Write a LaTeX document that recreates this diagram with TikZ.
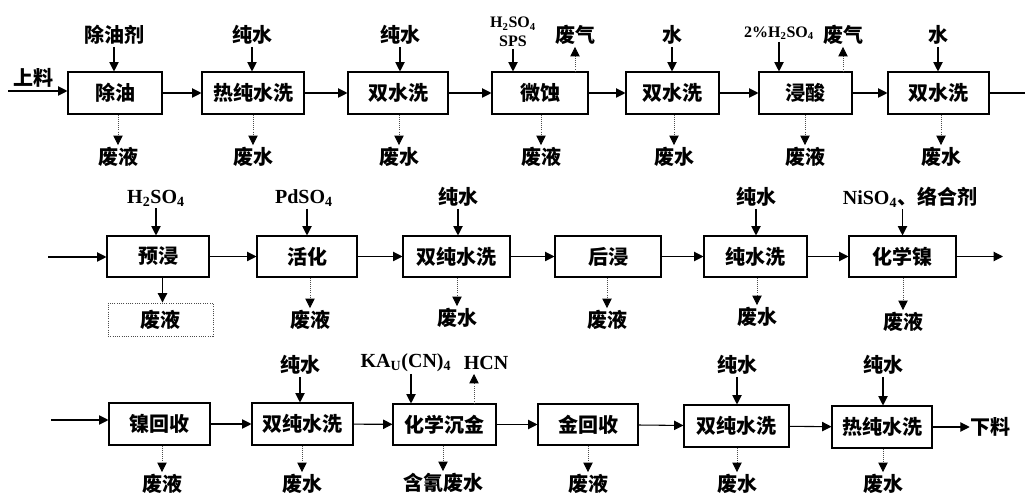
\documentclass[tikz,border=0pt]{standalone}
\usepackage{fontspec}
\newfontfamily\cjk{Noto Sans CJK SC}
\newfontfamily\tms{Liberation Serif}
\usetikzlibrary{arrows.meta,fit}
\newcommand\cnf{\cjk\bfseries\fontsize{15pt}{18pt}\selectfont}
\newcommand\chf{\tms\bfseries\fontsize{15pt}{18pt}\selectfont}
\newcommand\chsf{\tms\bfseries\fontsize{12pt}{14pt}\selectfont}
\begin{document}
\begin{tikzpicture}[x=0.75pt,y=-0.75pt,
  box/.style={draw, line width=0.8pt, inner sep=0pt},
  boxtxt/.style={font=\cnf, inner sep=0pt},
  lab/.style={inner sep=1.5pt, font=\cnf},
  chem/.style={inner sep=1.5pt, font=\chf},
  chems/.style={inner sep=1.5pt, font=\chsf, align=center},
  arr/.style={line width=0.8pt, -{Triangle[length=7pt,width=7pt]}},
  darr/.style={line width=0.6pt, densely dotted, draw=black!70, -{Triangle[length=7pt,width=7pt,color=black]}},
  dbox/.style={draw=black!70, densely dotted, line width=0.7pt, inner sep=0pt}]
\fill[white] (0,0) rectangle (1025,495);
\useasboundingbox (0,0) rectangle (1025,495);

% ---------- Row 1 ----------
\node[box, fit={(68,72)(162,114)}, label={[boxtxt]center:除油}] (b1) {};
\node[box, fit={(202,72)(304,114)}, label={[boxtxt]center:热纯水洗}] (b2) {};
\node[box, fit={(348,72)(448,114)}, label={[boxtxt]center:双水洗}] (b3) {};
\node[box, fit={(492,72)(588,114)}, label={[boxtxt]center:微蚀}] (b4) {};
\node[box, fit={(626,72)(719,114)}, label={[boxtxt]center:双水洗}] (b5) {};
\node[box, fit={(759,72)(852,114)}, label={[boxtxt]center:浸酸}] (b6) {};
\node[box, fit={(888,72)(989,114)}, label={[boxtxt]center:双水洗}] (b7) {};
\coordinate (s1) at (8,91);
\coordinate (e1) at (1025,93);
\node[lab] (t1) at (33,78) {上料};

\draw[arr] (s1) -- (s1 -| b1.west);
\draw[arr] (b1) -- (b2);
\draw[arr] (b2) -- (b3);
\draw[arr] (b3) -- (b4);
\draw[arr] (b4) -- (b5);
\draw[arr] (b5) -- (b6);
\draw[arr] (b6) -- (b7);
\draw[line width=0.8pt] (b7.east) -- (b7.east -| e1);

\node[lab] (i1) at (114,35) {除油剂};
\node[lab] (i2) at (252,35) {纯水};
\node[lab] (i3) at (400,35) {纯水};
\node[chems] (i4) at (513,32) {H\textsubscript{2}SO\textsubscript{4}\\SPS};
\node[lab] (w1) at (575,35) {废气};
\node[lab] (i5) at (672,35) {水};
\node[chems] (i6) at (779,33) {2\%H\textsubscript{2}SO\textsubscript{4}};
\node[lab] (w2) at (843,35) {废气};
\node[lab] (i7) at (938,35) {水};

\draw[arr] (i1.south) -- (i1.south |- b1.north);
\draw[arr] (i2.south) -- (i2.south |- b2.north);
\draw[arr] (i3.south) -- (i3.south |- b3.north);
\draw[arr] (i4.south) -- (i4.south |- b4.north);
\draw[darr] (w1.south |- b4.north) -- (w1.south);
\draw[arr] (i5.south) -- (i5.south |- b5.north);
\draw[arr] (i6.south) -- (i6.south |- b6.north);
\draw[darr] (w2.south |- b6.north) -- (w2.south);
\draw[arr] (i7.south) -- (i7.south |- b7.north);

\node[lab] (o1) at (118,157) {废液};
\node[lab] (o2) at (253,157) {废水};
\node[lab] (o3) at (399,157) {废水};
\node[lab] (o4) at (541,157) {废液};
\node[lab] (o5) at (674,157) {废水};
\node[lab] (o6) at (805,157) {废液};
\node[lab] (o7) at (941,157) {废水};
\foreach \o/\b in {o1/b1,o2/b2,o3/b3,o4/b4,o5/b5,o6/b6,o7/b7}
  \draw[darr] (\o.north |- \b.south) -- (\o.north);

% ---------- Row 2 ----------
\node[box, fit={(107,236)(209,277)}, label={[boxtxt]center:预浸}] (c1) {};
\node[box, fit={(257,236)(357,277)}, label={[boxtxt]center:活化}] (c2) {};
\node[box, fit={(403,236)(510,277)}, label={[boxtxt]center:双纯水洗}] (c3) {};
\node[box, fit={(555,236)(661,277)}, label={[boxtxt]center:后浸}] (c4) {};
\node[box, fit={(704,236)(807,277)}, label={[boxtxt]center:纯水洗}] (c5) {};
\node[box, fit={(849,236)(956,277)}, label={[boxtxt]center:化学镍}] (c6) {};
\coordinate (s2) at (48,257);
\coordinate (e2) at (1003,258);

\draw[arr] (s2) -- (s2 -| c1.west);
\draw[arr] (c1) -- (c2);
\draw[arr] (c2) -- (c3);
\draw[arr] (c3) -- (c4);
\draw[arr] (c4) -- (c5);
\draw[arr] (c5) -- (c6);
\draw[arr] (c6.east) -- (c6.east -| e2);

\node[chem] (j1) at (156,198) {H\textsubscript{2}SO\textsubscript{4}};
\node[chem] (j2) at (304,198) {PdSO\textsubscript{4}};
\node[lab] (j3) at (458,197) {纯水};
\node[lab] (j5) at (756,197) {纯水};
\node[chem] (j6) at (910,197) {NiSO\textsubscript{4}{\cnf 、络合剂}};

\draw[arr] (j1.south) -- (j1.south |- c1.north);
\draw[arr] (j2.south -| c2.north) -- (c2.north);
\draw[arr] (j3.south) -- (j3.south |- c3.north);
\draw[arr] (j5.south) -- (j5.south |- c5.north);
\draw[arr] (j6.south -| c6.north) -- (c6.north);

\node[dbox, fit={(108,303)(213,336)}, label={[boxtxt]center:废液}] (p1) {};
\node[lab] (p2) at (310,320) {废液};
\node[lab] (p3) at (457,318) {废水};
\node[lab] (p4) at (607,320) {废液};
\node[lab] (p5) at (757,317) {废水};
\node[lab] (p6) at (903,322) {废液};
\draw[arr] ([xshift=1.5pt]p1.north |- c1.south) -- ([xshift=1.5pt]p1.north);
\foreach \o/\b in {p2/c2,p3/c3,p4/c4,p5/c5,p6/c6}
  \draw[darr] (\o.north |- \b.south) -- (\o.north);

% ---------- Row 3 ----------
\node[box, fit={(109,403)(210,445)}, label={[boxtxt]center:镍回收}] (d1) {};
\node[box, fit={(252,403)(353,445)}, label={[boxtxt]center:双纯水洗}] (d2) {};
\node[box, fit={(393,404)(496,445)}, label={[boxtxt]center:化学沉金}] (d3) {};
\node[box, fit={(538,404)(638,445)}, label={[boxtxt]center:金回收}] (d4) {};
\node[box, fit={(684,405)(789,447)}, label={[boxtxt]center:双纯水洗}] (d5) {};
\node[box, fit={(832,406)(932,448)}, label={[boxtxt]center:热纯水洗}] (d6) {};
\coordinate (s3) at (51,420);
\node[lab, inner sep=0pt] (t3) at (990,427) {下料};

\draw[arr] (s3) -- (s3 -| d1.west);
\draw[arr] (d1) -- (d2);
\draw[arr] (d2) -- (d3);
\draw[arr] (d3) -- (d4);
\draw[arr] (d4) -- (d5);
\draw[arr] (d5) -- (d6);
\draw[arr] (d6.east) -- (t3.west);

\node[lab] (k2) at (300,365) {纯水};
\node[chem] (k3) at (406,363) {KA\textsubscript{U}(CN)\textsubscript{4}};
\node[chem] (h3) at (486,363) {HCN};
\node[lab] (k5) at (737,365) {纯水};
\node[lab] (k6) at (883,365) {纯水};
\coordinate (ka) at (411,374);
\coordinate (hc) at (474,374);

\draw[arr] (k2.south) -- (k2.south |- d2.north);
\draw[arr] (ka) -- (ka |- d3.north);
\draw[darr] (hc |- d3.north) -- (hc);
\draw[arr] (k5.south) -- (k5.south |- d5.north);
\draw[arr] (k6.south) -- (k6.south |- d6.north);

\node[lab] (q1) at (162,484) {废液};
\node[lab] (q2) at (302,484) {废水};
\node[lab] (q3) at (443,483) {含氰废水};
\node[lab] (q4) at (588,484) {废液};
\node[lab] (q5) at (737,484) {废水};
\node[lab] (q6) at (883,484) {废水};
\foreach \o/\b in {q1/d1,q2/d2,q3/d3,q4/d4,q5/d5,q6/d6}
  \draw[darr] (\o.north |- \b.south) -- (\o.north);
\end{tikzpicture}
\end{document}
